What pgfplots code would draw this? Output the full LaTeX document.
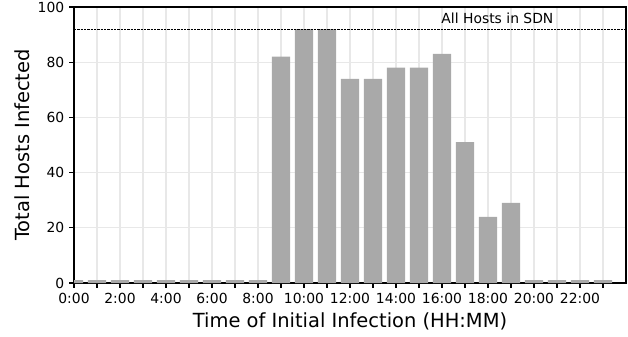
\documentclass[border=0pt]{standalone}
\usepackage{pgfplots}
\pgfplotsset{compat=1.18}
\usepackage{fontspec}
\setmainfont{DejaVu Sans}
\definecolor{barc}{RGB}{169,169,169}
\definecolor{gridc}{RGB}{232,232,232}
\begin{document}
\begin{tikzpicture}
\path[use as bounding box] (0,0) rectangle (452.16pt,241.92pt);
\begin{axis}[
  at={(53.28pt,38.16pt)}, anchor=south west,
  scale only axis, width=397.44pt, height=198.72pt,
  xmin=0, xmax=24, ymin=0, ymax=100,
  xtick={0,...,23},
  xticklabels={0:00,{},2:00,{},4:00,{},6:00,{},8:00,{},10:00,{},12:00,{},14:00,{},16:00,{},18:00,{},20:00,{},22:00,{}},
  ytick={0,20,40,60,80,100},
  xtick pos=bottom, ytick pos=left,
  tick align=outside,
  major tick length=3.5pt,
  every tick/.style={black, line width=0.8pt},
  axis line style={black, line width=0.8pt},
  grid=major,
  major grid style={gridc, line width=0.8pt},
  ticklabel style={font=\fontsize{10}{12}\selectfont},
  /pgf/number format/assume math mode=true,
  xlabel={Time of Initial Infection (HH:MM)},
  ylabel={Total Hosts Infected},
  label style={font=\fontsize{14}{17}\selectfont},
  xlabel style={at={(axis description cs:0.5,-0.162)}, anchor=base},
  ylabel style={at={(axis description cs:-0.0806,0.5)}, anchor=base, rotate=0},
]
\addplot[ybar, bar width=0.8, bar shift=0pt, fill=barc, draw=none] coordinates {
(0,1) (1,1) (2,1) (3,1) (4,1) (5,1) (6,1) (7,1) (8,1)
(9,82) (10,92) (11,92) (12,74) (13,74) (14,78) (15,78) (16,83)
(17,51) (18,24) (19,29) (20,1) (21,1) (22,1) (23,1)
};
\addplot[black, line width=0.7pt, dash pattern=on 1.6pt off 0.8pt] coordinates {(0,92) (24,92)};
\node[anchor=base, font=\fontsize{10}{12}\selectfont] at (axis cs:18.41,93.85) {All Hosts in SDN};
\end{axis}
\end{tikzpicture}
\end{document}
